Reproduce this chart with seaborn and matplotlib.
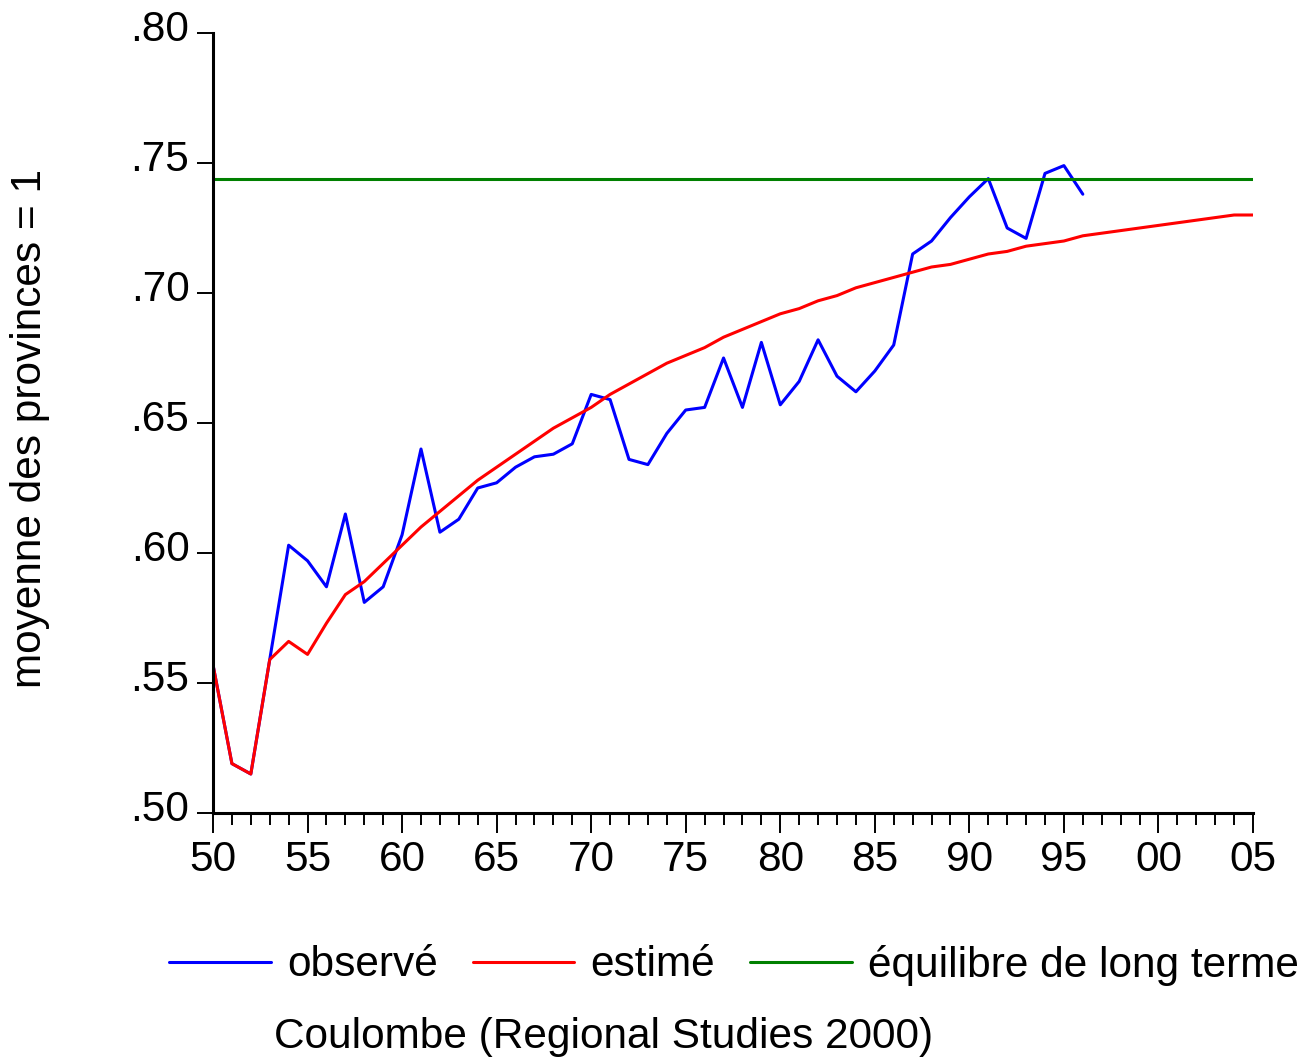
import numpy as np
import pandas as pd
import matplotlib
matplotlib.use('Agg')
import matplotlib.pyplot as plt
import matplotlib.transforms as mtransforms
from matplotlib.ticker import MultipleLocator
import seaborn as sns

# ---- data ----
years_obs = list(range(1950, 1997))
observed = [0.557, 0.519, 0.515, 0.559, 0.603, 0.597, 0.587, 0.615, 0.581, 0.587,
            0.607, 0.640, 0.608, 0.613, 0.625, 0.627, 0.633, 0.637, 0.638, 0.642,
            0.661, 0.659, 0.636, 0.634, 0.646, 0.655, 0.656, 0.675, 0.656, 0.681,
            0.657, 0.666, 0.682, 0.668, 0.662, 0.670, 0.680, 0.715, 0.720, 0.729,
            0.737, 0.744, 0.725, 0.721, 0.746, 0.749, 0.738]

years_est = list(range(1950, 2006))
estimated = [0.557, 0.519, 0.515, 0.559, 0.566, 0.561, 0.573, 0.584, 0.589, 0.596,
             0.603, 0.610, 0.616, 0.622, 0.628, 0.633, 0.638, 0.643, 0.648, 0.652,
             0.656, 0.661, 0.665, 0.669, 0.673, 0.676, 0.679, 0.683, 0.686, 0.689,
             0.692, 0.694, 0.697, 0.699, 0.702, 0.704, 0.706, 0.708, 0.710, 0.711,
             0.713, 0.715, 0.716, 0.718, 0.719, 0.720, 0.722, 0.723, 0.724, 0.725,
             0.726, 0.727, 0.728, 0.729, 0.730, 0.730]

equilibrium = 0.7437

x_ticks = [1950, 1955, 1960, 1965, 1970, 1975, 1980, 1985, 1990, 1995, 2000, 2005]
x_tick_labels = ['50', '55', '60', '65', '70', '75', '80', '85', '90', '95', '00', '05']
y_ticks = [0.50, 0.55, 0.60, 0.65, 0.70, 0.75, 0.80]
y_tick_labels = ['.50', '.55', '.60', '.65', '.70', '.75', '.80']

series_labels = ['observé', 'estimé', 'équilibre de long terme']
caption = 'Coulombe (Regional Studies 2000)'
y_label = 'moyenne des provinces = 1'

# ---- style ----
sns.set_style('ticks')
plt.rcParams['font.family'] = ['Liberation Sans', 'DejaVu Sans']
plt.rcParams['text.color'] = 'black'
plt.rcParams['xtick.color'] = 'black'
plt.rcParams['ytick.color'] = 'black'
FS = 30.5
LW = 2.2

fig = plt.figure(figsize=(13.08, 10.61), dpi=100)
ax = fig.add_axes([213 / 1308, 1 - 813 / 1061, 1040 / 1308, 780 / 1061])

obs_df = pd.DataFrame({'Year': years_obs, 'Value': observed})
est_df = pd.DataFrame({'Year': years_est, 'Value': estimated})

sns.lineplot(data=obs_df, x='Year', y='Value', color='#0000FF', lw=LW,
             label=series_labels[0], ax=ax, legend=False)
sns.lineplot(data=est_df, x='Year', y='Value', color='#FF0000', lw=LW,
             label=series_labels[1], ax=ax, legend=False)
ax.axhline(equilibrium, color='#008000', lw=LW, label=series_labels[2])

ax.set_xlim(1950, 2005)
ax.set_ylim(0.50, 0.80)
ax.set_xlabel('')
ax.set_ylabel('')

ax.set_xticks(x_ticks)
ax.set_xticklabels(x_tick_labels, fontsize=FS)
ax.xaxis.set_minor_locator(MultipleLocator(1))
ax.set_yticks(y_ticks)
ax.set_yticklabels(y_tick_labels, fontsize=FS)

ax.tick_params(axis='x', which='major', direction='out', length=14.5, width=1.4,
               color='black', labelcolor='black', pad=5)
ax.tick_params(axis='x', which='minor', direction='out', length=8.5, width=1.4,
               color='black')
ax.tick_params(axis='y', which='major', direction='out', length=11.5, width=1.4,
               color='black', labelcolor='black', pad=5.5)

# y labels sit a little above their tick in the original
offset = mtransforms.ScaledTranslation(0, 0.075, fig.dpi_scale_trans)
for lbl in ax.get_yticklabels():
    lbl.set_transform(lbl.get_transform() + offset)

for side in ['top', 'right']:
    ax.spines[side].set_visible(False)
for side in ['left', 'bottom']:
    ax.spines[side].set_linewidth(2.2)
    ax.spines[side].set_color('black')

handles, labels = ax.get_legend_handles_labels()
fig.legend(handles, labels, loc='center', bbox_to_anchor=(734 / 1308, 1 - 965 / 1061),
           ncol=3, frameon=False, fontsize=FS, handlelength=2.4,
           handletextpad=0.38, columnspacing=0.82, borderpad=0, borderaxespad=0)

fig.text(603.5 / 1308, 1 - 1037 / 1061, caption, ha='center', va='center', fontsize=FS)
fig.text(30 / 1308, 1 - 428 / 1061, y_label, rotation=90, ha='center', va='center',
         fontsize=FS)

fig.savefig('out.png', dpi=100)
